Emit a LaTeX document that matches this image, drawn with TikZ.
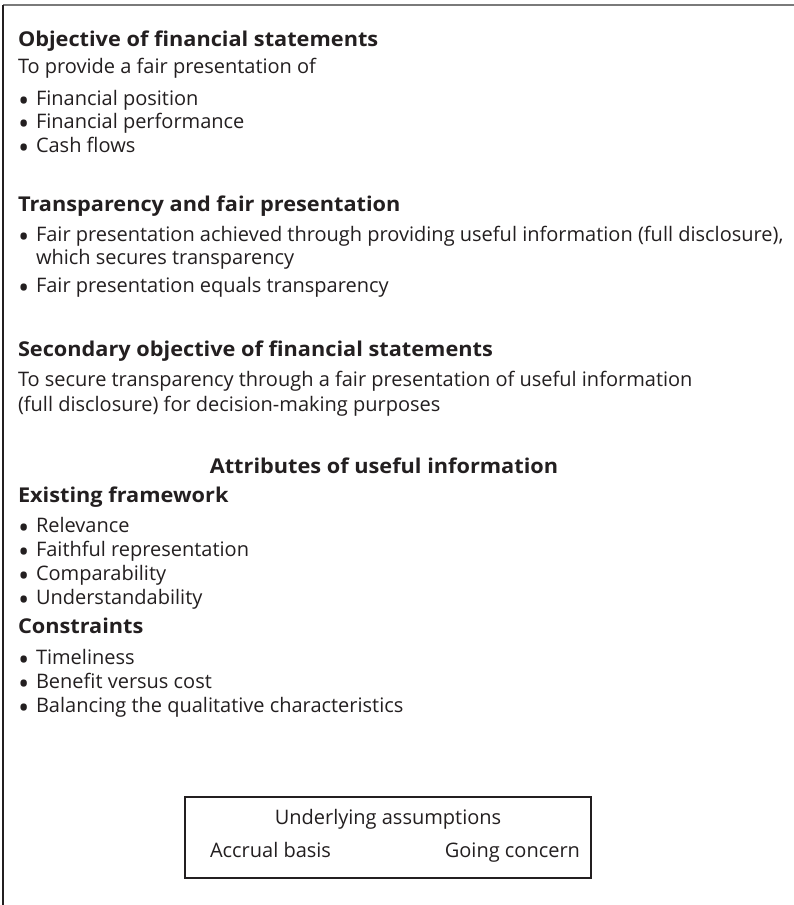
\documentclass[tikz,border=0pt]{standalone}
\usepackage{fontspec}
\setmainfont{Open Sans}[BoldFeatures={FakeStretch=1.065}]
\definecolor{txt}{HTML}{231F20}
\definecolor{topline}{HTML}{7A7A7A}
\newcommand{\bulitem}[1]{\makebox[18pt][l]{\raisebox{-0.3em}{\scalebox{1.5}{\textbullet}}}#1}
\begin{document}
\begin{tikzpicture}[x=1pt,y=-1pt,
  every node/.style={inner sep=0pt,outer sep=0pt,text=txt},
  body/.style={anchor=base west,font=\fontsize{20}{24}\selectfont},
  head/.style={anchor=base west,font=\fontsize{20.4}{24}\selectfont\bfseries},
  bul/.style={anchor=base west,font=\fontsize{20}{24}\selectfont},
  frame/.style={draw=txt,line width=1.2pt}]
\useasboundingbox (0,0) rectangle (794,905);
\fill[white] (0,0) rectangle (794,905);
% frame lines
\coordinate (tl) at (3,5);
\coordinate (tr) at (794,5);
\coordinate (bl) at (3,905);
\draw[topline,line width=1.6pt] (tl) -- (tr);
\draw[txt,line width=1.2pt] (tl) -- (bl);
% section 1
\node[head] (h1) at (18,46) {Objective of financial statements};
\node[body] (t1) at (18,73) {To provide a fair presentation of};
\node[bul] (b11) at (18,105) {\bulitem{Financial position}};
\node[bul] (b12) at (18,128) {\bulitem{Financial performance}};
\node[bul] (b13) at (18,152) {\bulitem{Cash flows}};
% section 2
\node[head] (h2) at (18,211) {Transparency and fair presentation};
\node[bul] (b21) at (18,241) {\bulitem{Fair presentation achieved through providing useful information (full disclosure),}};
\node[body] (b21b) at (36,264) {which secures transparency};
\node[bul] (b22) at (18,292) {\bulitem{Fair presentation equals transparency}};
% section 3
\node[head] (h3) at (18,356) {Secondary objective of financial statements};
\node[body] (t31) at (18,386) {To secure transparency through a fair presentation of useful information};
\node[body] (t32) at (18,411) {(full disclosure) for decision-making purposes};
% section 4
\node[head,anchor=base] (h4) at (384,473) {Attributes of useful information};
\node[head] (h5) at (18,502) {Existing framework};
\node[bul] (b41) at (18,532) {\bulitem{Relevance}};
\node[bul] (b42) at (18,556) {\bulitem{Faithful representation}};
\node[bul] (b43) at (18,580) {\bulitem{Comparability}};
\node[bul] (b44) at (18,604) {\bulitem{Understandability}};
\node[head] (h6) at (18,633) {Constraints};
\node[bul] (b51) at (18,664) {\bulitem{Timeliness}};
\node[bul] (b52) at (18,688) {\bulitem{Benefit versus cost}};
\node[bul] (b53) at (18,712) {\bulitem{Balancing the qualitative characteristics}};
% box
\node[frame,minimum width=406pt,minimum height=81pt,anchor=north west] (box) at (185,797) {};
\node[body,anchor=base] (u1) at (388,824) {Underlying assumptions};
\node[body] (u2) at (210,857) {Accrual basis};
\node[body,anchor=base east] (u3) at (580,857) {Going concern};
\end{tikzpicture}
\end{document}
